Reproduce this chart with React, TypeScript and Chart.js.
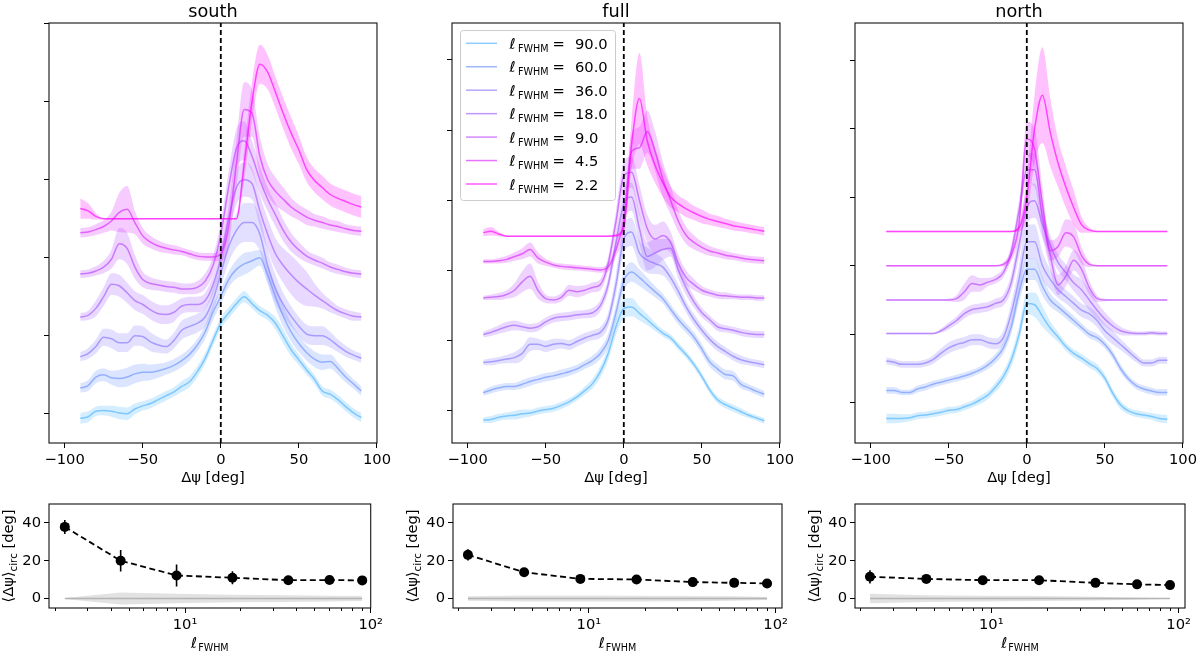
import React, { useEffect, useRef } from 'react';
import { Chart, registerables } from 'chart.js';

Chart.register(...registerables);

const FONT = 'DejaVu Sans';
Chart.defaults.font.family = FONT;
Chart.defaults.color = '#000';

// ---------------- data ----------------
const PSI = [-90, -85, -80, -75, -70, -65, -60, -55, -50, -45, -40, -35, -30, -25, -20, -15, -10, -5, 0, 5, 10, 15, 20, 25, 30, 35, 40, 45, 50, 55, 60, 65, 70, 75, 80, 85, 90];
const PSI_TICKS = [-100, -50, 0, 50, 100];
const RIDGE_TICKS = [0, 1, 2, 3, 4, 5];
const FWHM_LABELS = ['90.0', '60.0', '36.0', '18.0', '9.0', '4.5', '2.2'];

// south
const SOUTH_90 = [-0.06, -0.04, 0.03, 0.04, 0.03, 0.01, 0.0, 0.06, 0.1, 0.13, 0.18, 0.23, 0.28, 0.35, 0.41, 0.54, 0.71, 0.94, 1.16, 1.29, 1.41, 1.5, 1.41, 1.32, 1.26, 1.16, 0.99, 0.82, 0.69, 0.56, 0.44, 0.29, 0.25, 0.18, 0.09, 0.01, -0.05];
const SOUTH_90_SPREAD = [0.07, 0.07, 0.06, 0.06, 0.07, 0.08, 0.08, 0.07, 0.06, 0.06, 0.06, 0.06, 0.06, 0.07, 0.07, 0.07, 0.07, 0.07, 0.07, 0.07, 0.07, 0.07, 0.06, 0.06, 0.06, 0.08, 0.09, 0.08, 0.07, 0.06, 0.06, 0.06, 0.06, 0.06, 0.06, 0.06, 0.06];
const SOUTH_60 = [0.33, 0.36, 0.47, 0.5, 0.46, 0.45, 0.47, 0.51, 0.53, 0.53, 0.55, 0.58, 0.62, 0.68, 0.76, 0.88, 1.05, 1.3, 1.5, 1.72, 1.85, 1.92, 1.96, 2.0, 1.78, 1.5, 1.25, 1.05, 0.9, 0.78, 0.7, 0.66, 0.67, 0.58, 0.47, 0.38, 0.29];
const SOUTH_60_SPREAD = [0.06, 0.07, 0.08, 0.08, 0.09, 0.11, 0.12, 0.12, 0.11, 0.1, 0.09, 0.08, 0.08, 0.08, 0.08, 0.08, 0.09, 0.1, 0.1, 0.1, 0.12, 0.14, 0.12, 0.1, 0.12, 0.14, 0.14, 0.12, 0.11, 0.1, 0.1, 0.1, 0.09, 0.08, 0.07, 0.06, 0.06];
const SOUTH_36 = [0.73, 0.77, 0.86, 0.98, 0.96, 0.91, 0.91, 1.0, 0.99, 0.92, 0.88, 0.86, 0.94, 1.07, 1.12, 1.16, 1.24, 1.46, 1.8, 2.14, 2.35, 2.45, 2.45, 2.3, 1.9, 1.6, 1.4, 1.25, 1.12, 1.02, 1.0, 1.0, 0.95, 0.87, 0.8, 0.75, 0.71];
const SOUTH_36_SPREAD = [0.06, 0.07, 0.09, 0.11, 0.12, 0.12, 0.12, 0.13, 0.13, 0.12, 0.1, 0.09, 0.1, 0.12, 0.12, 0.12, 0.12, 0.14, 0.18, 0.2, 0.22, 0.25, 0.25, 0.22, 0.2, 0.18, 0.15, 0.13, 0.12, 0.12, 0.12, 0.12, 0.1, 0.08, 0.07, 0.06, 0.06];
const SOUTH_18 = [1.24, 1.26, 1.35, 1.5, 1.66, 1.64, 1.55, 1.45, 1.4, 1.33, 1.28, 1.27, 1.3, 1.38, 1.4, 1.4, 1.45, 1.65, 2.0, 2.5, 2.9, 3.0, 2.95, 2.6, 2.3, 2.05, 1.9, 1.78, 1.68, 1.6, 1.52, 1.45, 1.38, 1.32, 1.28, 1.25, 1.24];
const SOUTH_18_SPREAD = [0.05, 0.06, 0.1, 0.12, 0.14, 0.14, 0.13, 0.12, 0.12, 0.12, 0.12, 0.12, 0.12, 0.1, 0.1, 0.1, 0.1, 0.12, 0.15, 0.2, 0.22, 0.22, 0.2, 0.2, 0.2, 0.2, 0.22, 0.25, 0.25, 0.22, 0.15, 0.1, 0.08, 0.06, 0.06, 0.06, 0.05];
const SOUTH_9 = [1.79, 1.8, 1.83, 1.88, 1.98, 2.18, 2.12, 1.88, 1.72, 1.67, 1.65, 1.63, 1.62, 1.6, 1.6, 1.62, 1.7, 1.9, 2.3, 2.9, 3.4, 3.5, 3.3, 3.0, 2.75, 2.55, 2.35, 2.2, 2.1, 2.02, 1.97, 1.93, 1.88, 1.85, 1.82, 1.8, 1.79];
const SOUTH_9_SPREAD = [0.05, 0.05, 0.06, 0.08, 0.12, 0.2, 0.2, 0.15, 0.1, 0.08, 0.07, 0.07, 0.07, 0.07, 0.07, 0.08, 0.1, 0.12, 0.15, 0.2, 0.25, 0.25, 0.2, 0.18, 0.15, 0.15, 0.14, 0.12, 0.1, 0.08, 0.07, 0.07, 0.06, 0.06, 0.05, 0.05, 0.05];
const SOUTH_4_5 = [2.32, 2.33, 2.36, 2.4, 2.47, 2.58, 2.62, 2.45, 2.28, 2.2, 2.15, 2.12, 2.1, 2.08, 2.05, 2.02, 2.01, 2.01, 2.05, 2.4, 3.2, 3.9, 3.85, 3.3, 3.0, 2.85, 2.75, 2.65, 2.58, 2.52, 2.48, 2.45, 2.42, 2.4, 2.37, 2.35, 2.34];
const SOUTH_4_5_SPREAD = [0.06, 0.06, 0.07, 0.08, 0.12, 0.25, 0.3, 0.15, 0.1, 0.08, 0.07, 0.06, 0.06, 0.05, 0.05, 0.05, 0.05, 0.05, 0.1, 0.25, 0.3, 0.35, 0.3, 0.25, 0.2, 0.18, 0.15, 0.12, 0.1, 0.1, 0.08, 0.08, 0.07, 0.07, 0.06, 0.06, 0.06];
const SOUTH_2_2 = [2.63, 2.6, 2.53, 2.5, 2.5, 2.5, 2.5, 2.5, 2.5, 2.5, 2.5, 2.5, 2.5, 2.5, 2.5, 2.5, 2.5, 2.5, 2.5, 2.5, 2.5, 3.2, 4.0, 4.48, 4.38, 4.12, 3.85, 3.6, 3.38, 3.13, 2.99, 2.9, 2.81, 2.76, 2.72, 2.68, 2.65];
const SOUTH_2_2_SPREAD = [0.13, 0.1, 0.04, 0.01, 0.01, 0.01, 0.01, 0.01, 0.01, 0.01, 0.01, 0.01, 0.01, 0.01, 0.01, 0.01, 0.01, 0.01, 0.01, 0.01, 0.01, 0.2, 0.25, 0.25, 0.22, 0.2, 0.2, 0.2, 0.18, 0.16, 0.15, 0.15, 0.14, 0.14, 0.14, 0.14, 0.14];

// full
const FULL_90 = [-0.13, -0.12, -0.09, -0.07, -0.06, -0.04, -0.03, 0.0, 0.02, 0.04, 0.08, 0.13, 0.2, 0.29, 0.39, 0.56, 0.82, 1.2, 1.46, 1.48, 1.39, 1.3, 1.2, 1.11, 1.04, 0.92, 0.8, 0.66, 0.49, 0.3, 0.16, 0.09, 0.04, -0.01, -0.06, -0.1, -0.14];
const FULL_90_SPREAD = [0.04, 0.05, 0.05, 0.05, 0.06, 0.06, 0.05, 0.05, 0.05, 0.05, 0.05, 0.05, 0.05, 0.06, 0.07, 0.08, 0.1, 0.12, 0.14, 0.13, 0.1, 0.08, 0.06, 0.05, 0.05, 0.05, 0.05, 0.05, 0.05, 0.05, 0.05, 0.05, 0.05, 0.05, 0.04, 0.04, 0.04];
const FULL_60 = [0.26, 0.3, 0.33, 0.35, 0.35, 0.38, 0.42, 0.45, 0.48, 0.5, 0.53, 0.56, 0.6, 0.66, 0.72, 0.82, 1.0, 1.4, 1.85, 1.98, 1.9, 1.8, 1.7, 1.6, 1.45, 1.3, 1.18, 1.05, 0.88, 0.7, 0.6, 0.52, 0.5, 0.38, 0.33, 0.28, 0.24];
const FULL_60_SPREAD = [0.04, 0.05, 0.05, 0.05, 0.05, 0.06, 0.06, 0.06, 0.06, 0.06, 0.06, 0.06, 0.06, 0.06, 0.07, 0.08, 0.1, 0.12, 0.14, 0.14, 0.12, 0.1, 0.08, 0.07, 0.07, 0.07, 0.07, 0.07, 0.07, 0.07, 0.07, 0.07, 0.07, 0.06, 0.05, 0.05, 0.05];
const FULL_36 = [0.69, 0.7, 0.72, 0.74, 0.76, 0.82, 0.95, 0.95, 0.92, 0.95, 0.96, 0.94, 0.99, 1.04, 1.08, 1.12, 1.3, 1.8, 2.45, 2.55, 2.25, 2.15, 2.1, 2.05, 1.9, 1.7, 1.48, 1.3, 1.15, 1.02, 0.92, 0.85, 0.78, 0.73, 0.7, 0.68, 0.66];
const FULL_36_SPREAD = [0.04, 0.05, 0.05, 0.06, 0.08, 0.1, 0.1, 0.08, 0.08, 0.08, 0.07, 0.07, 0.07, 0.07, 0.07, 0.08, 0.1, 0.15, 0.2, 0.2, 0.18, 0.18, 0.15, 0.12, 0.1, 0.1, 0.08, 0.08, 0.07, 0.07, 0.07, 0.06, 0.06, 0.06, 0.05, 0.05, 0.05];
const FULL_18 = [1.09, 1.12, 1.16, 1.2, 1.22, 1.2, 1.18, 1.2, 1.27, 1.32, 1.34, 1.35, 1.37, 1.38, 1.4, 1.5, 1.8, 2.4, 2.95, 3.05, 2.6, 2.2, 2.25, 2.3, 2.32, 2.0, 1.75, 1.55, 1.4, 1.3, 1.2, 1.17, 1.15, 1.12, 1.1, 1.09, 1.09];
const FULL_18_SPREAD = [0.04, 0.05, 0.06, 0.07, 0.07, 0.06, 0.06, 0.06, 0.06, 0.06, 0.06, 0.06, 0.06, 0.06, 0.07, 0.08, 0.1, 0.15, 0.2, 0.2, 0.22, 0.2, 0.2, 0.15, 0.12, 0.12, 0.1, 0.08, 0.07, 0.06, 0.06, 0.05, 0.05, 0.05, 0.05, 0.05, 0.05];
const FULL_9 = [1.61, 1.62, 1.63, 1.66, 1.72, 1.84, 1.92, 1.72, 1.6, 1.58, 1.62, 1.72, 1.7, 1.72, 1.76, 1.8, 2.1, 2.7, 3.35, 3.4, 3.0, 2.6, 2.45, 2.5, 2.4, 2.1, 1.9, 1.8, 1.72, 1.68, 1.65, 1.64, 1.63, 1.62, 1.62, 1.61, 1.61];
const FULL_9_SPREAD = [0.03, 0.04, 0.05, 0.06, 0.1, 0.15, 0.18, 0.12, 0.06, 0.05, 0.06, 0.08, 0.08, 0.07, 0.07, 0.08, 0.1, 0.15, 0.2, 0.22, 0.22, 0.2, 0.2, 0.2, 0.15, 0.12, 0.1, 0.08, 0.06, 0.05, 0.05, 0.05, 0.04, 0.04, 0.04, 0.04, 0.04];
const FULL_4_5 = [2.13, 2.13, 2.14, 2.16, 2.2, 2.24, 2.3, 2.18, 2.12, 2.08, 2.06, 2.05, 2.04, 2.03, 2.02, 2.01, 2.05, 2.3, 2.72, 3.7, 3.75, 3.98, 3.7, 3.3, 3.0, 2.7, 2.5, 2.4, 2.33, 2.28, 2.25, 2.22, 2.2, 2.18, 2.16, 2.15, 2.14];
const FULL_4_5_SPREAD = [0.03, 0.03, 0.04, 0.05, 0.06, 0.08, 0.1, 0.08, 0.05, 0.04, 0.04, 0.04, 0.04, 0.04, 0.04, 0.04, 0.06, 0.1, 0.2, 0.25, 0.3, 0.3, 0.28, 0.25, 0.2, 0.15, 0.12, 0.1, 0.08, 0.07, 0.06, 0.06, 0.05, 0.05, 0.05, 0.05, 0.05];
const FULL_2_2 = [2.54, 2.56, 2.52, 2.49, 2.49, 2.49, 2.49, 2.49, 2.49, 2.49, 2.49, 2.49, 2.49, 2.49, 2.49, 2.49, 2.49, 2.5, 2.62, 3.8, 4.45, 3.85, 3.5, 3.25, 3.05, 2.95, 2.88, 2.82, 2.77, 2.73, 2.7, 2.67, 2.64, 2.62, 2.6, 2.58, 2.56];
const FULL_2_2_SPREAD = [0.05, 0.06, 0.03, 0.01, 0.01, 0.01, 0.01, 0.01, 0.01, 0.01, 0.01, 0.01, 0.01, 0.01, 0.01, 0.01, 0.01, 0.02, 0.1, 0.35, 0.65, 0.35, 0.25, 0.2, 0.15, 0.12, 0.12, 0.1, 0.1, 0.08, 0.08, 0.07, 0.07, 0.06, 0.06, 0.06, 0.06];

// north
const NORTH_90 = [-0.23, -0.23, -0.23, -0.22, -0.19, -0.18, -0.16, -0.14, -0.11, -0.1, -0.06, -0.02, 0.04, 0.11, 0.23, 0.38, 0.62, 0.99, 1.45, 1.43, 1.26, 1.09, 0.96, 0.82, 0.72, 0.65, 0.57, 0.5, 0.36, 0.14, -0.03, -0.12, -0.16, -0.18, -0.2, -0.23, -0.24];
const NORTH_90_SPREAD = [0.07, 0.07, 0.06, 0.05, 0.05, 0.05, 0.05, 0.05, 0.05, 0.05, 0.05, 0.05, 0.06, 0.06, 0.07, 0.08, 0.1, 0.12, 0.15, 0.18, 0.15, 0.1, 0.07, 0.06, 0.06, 0.06, 0.06, 0.06, 0.06, 0.06, 0.06, 0.05, 0.05, 0.05, 0.05, 0.06, 0.06];
const NORTH_60 = [0.18, 0.18, 0.15, 0.15, 0.2, 0.23, 0.27, 0.3, 0.33, 0.36, 0.39, 0.43, 0.48, 0.55, 0.65, 0.8, 1.1, 1.6, 1.95, 1.95, 1.7, 1.5, 1.4, 1.3, 1.2, 1.1, 1.0, 0.95, 0.85, 0.7, 0.5, 0.35, 0.25, 0.2, 0.17, 0.15, 0.15];
const NORTH_60_SPREAD = [0.05, 0.05, 0.04, 0.04, 0.05, 0.05, 0.05, 0.05, 0.05, 0.05, 0.05, 0.05, 0.05, 0.06, 0.07, 0.08, 0.1, 0.14, 0.16, 0.16, 0.14, 0.1, 0.08, 0.07, 0.07, 0.06, 0.06, 0.06, 0.06, 0.06, 0.06, 0.05, 0.05, 0.05, 0.05, 0.05, 0.05];
const NORTH_36 = [0.61, 0.59, 0.56, 0.56, 0.56, 0.58, 0.63, 0.72, 0.8, 0.85, 0.88, 0.92, 0.92, 0.88, 0.86, 0.95, 1.3, 1.8, 2.35, 2.35, 2.0, 1.8, 1.65, 1.55, 1.45, 1.35, 1.3, 1.2, 1.05, 0.95, 0.85, 0.75, 0.65, 0.58, 0.58, 0.62, 0.62];
const NORTH_36_SPREAD = [0.05, 0.05, 0.05, 0.05, 0.05, 0.05, 0.06, 0.07, 0.08, 0.08, 0.08, 0.08, 0.08, 0.08, 0.08, 0.1, 0.15, 0.2, 0.25, 0.25, 0.2, 0.15, 0.12, 0.1, 0.1, 0.1, 0.1, 0.1, 0.1, 0.1, 0.08, 0.07, 0.06, 0.05, 0.05, 0.05, 0.05];
const NORTH_18 = [1.01, 1.01, 1.01, 1.01, 1.01, 1.01, 1.01, 1.05, 1.12, 1.2, 1.3, 1.36, 1.38, 1.4, 1.45, 1.5, 1.75, 2.3, 2.85, 2.95, 2.6, 2.3, 2.05, 1.9, 1.75, 1.65, 1.5, 1.35, 1.22, 1.12, 1.05, 1.02, 1.01, 1.01, 1.02, 1.01, 1.01];
const NORTH_18_SPREAD = [0.01, 0.01, 0.01, 0.01, 0.01, 0.01, 0.01, 0.03, 0.05, 0.06, 0.07, 0.07, 0.07, 0.07, 0.07, 0.08, 0.12, 0.18, 0.25, 0.25, 0.2, 0.15, 0.12, 0.12, 0.12, 0.15, 0.15, 0.12, 0.1, 0.08, 0.06, 0.04, 0.03, 0.03, 0.03, 0.03, 0.03];
const NORTH_9 = [1.5, 1.5, 1.5, 1.5, 1.5, 1.5, 1.5, 1.5, 1.5, 1.52, 1.62, 1.74, 1.72, 1.76, 1.8, 1.9, 2.2, 2.8, 3.4, 3.4, 2.7, 2.15, 1.72, 1.85, 2.08, 1.95, 1.68, 1.52, 1.5, 1.5, 1.5, 1.5, 1.5, 1.5, 1.5, 1.5, 1.5];
const NORTH_9_SPREAD = [0.01, 0.01, 0.01, 0.01, 0.01, 0.01, 0.01, 0.01, 0.02, 0.05, 0.12, 0.12, 0.1, 0.06, 0.06, 0.07, 0.1, 0.15, 0.2, 0.25, 0.25, 0.2, 0.15, 0.15, 0.15, 0.15, 0.1, 0.05, 0.02, 0.01, 0.01, 0.01, 0.01, 0.01, 0.01, 0.01, 0.01];
const NORTH_4_5 = [2.0, 2.0, 2.0, 2.0, 2.0, 2.0, 2.0, 2.0, 2.0, 2.0, 2.0, 2.0, 2.0, 2.0, 2.0, 2.02, 2.15, 2.6, 3.85, 3.7, 2.9, 2.22, 2.28, 2.48, 2.42, 2.15, 2.02, 2.0, 2.0, 2.0, 2.0, 2.0, 2.0, 2.0, 2.0, 2.0, 2.0];
const NORTH_4_5_SPREAD = [0.01, 0.01, 0.01, 0.01, 0.01, 0.01, 0.01, 0.01, 0.01, 0.01, 0.01, 0.01, 0.01, 0.01, 0.01, 0.03, 0.08, 0.15, 0.25, 0.3, 0.25, 0.15, 0.15, 0.2, 0.2, 0.12, 0.04, 0.01, 0.01, 0.01, 0.01, 0.01, 0.01, 0.01, 0.01, 0.01, 0.01];
const NORTH_2_2 = [2.5, 2.5, 2.5, 2.5, 2.5, 2.5, 2.5, 2.5, 2.5, 2.5, 2.5, 2.5, 2.5, 2.5, 2.5, 2.5, 2.5, 2.55, 3.0, 4.0, 4.49, 3.95, 3.5, 3.15, 2.85, 2.6, 2.52, 2.5, 2.5, 2.5, 2.5, 2.5, 2.5, 2.5, 2.5, 2.5, 2.5];
const NORTH_2_2_SPREAD = [0.01, 0.01, 0.01, 0.01, 0.01, 0.01, 0.01, 0.01, 0.01, 0.01, 0.01, 0.01, 0.01, 0.01, 0.01, 0.01, 0.01, 0.05, 0.3, 0.5, 0.7, 0.5, 0.35, 0.3, 0.25, 0.12, 0.04, 0.01, 0.01, 0.01, 0.01, 0.01, 0.01, 0.01, 0.01, 0.01, 0.01];

// summary panels
const L_FWHM = [2.25, 4.5, 9, 18, 36, 60, 90];
const LOG_MAJOR = [10, 100];
const LOG_MAJOR_LABELS = ['10¹', '10²'];
const LOG_MINOR = [2, 3, 4, 5, 6, 7, 8, 9, 20, 30, 40, 50, 60, 70, 80, 90];
const SUMMARY_TICKS = [0, 20, 40];

const SOUTH_MEAN = [37.9, 20.0, 12.2, 11.0, 9.7, 9.8, 9.6];
const SOUTH_ERR = [3.7, 5.7, 5.8, 3.5, 1.5, 1.5, 1.3];
const SOUTH_NULL = [0.3, 3.2, 2.5, 2.0, 1.8, 1.5, 1.3];
const FULL_MEAN = [23.1, 13.9, 10.4, 10.1, 8.7, 8.3, 8.0];
const FULL_ERR = [3.0, 1.2, 1.0, 1.0, 0.8, 0.8, 0.8];
const FULL_NULL = [1.2, 1.6, 1.6, 1.5, 1.4, 1.2, 0.8];
const NORTH_MEAN = [11.5, 10.4, 9.7, 9.7, 8.3, 7.5, 7.1];
const NORTH_ERR = [3.5, 1.5, 1.0, 1.0, 1.0, 1.0, 1.0];
const NORTH_NULL = [2.5, 1.8, 1.5, 1.3, 1.0, 0.6, 0.3];

// ---------------- style ----------------
const CURVE_COLORS = [
  [77, 179, 255],
  [107, 148, 255],
  [135, 120, 255],
  [161, 94, 255],
  [186, 69, 255],
  [217, 38, 255],
  [255, 0, 255],
];
const TICK_FONT = { family: FONT, size: 14.7 };

function rgba(c: number[], a: number) {
  return `rgba(${c[0]},${c[1]},${c[2]},${a})`;
}

const framePlugin = {
  id: 'frame',
  afterDatasetsDraw(chart: any) {
    const { ctx, chartArea: a } = chart;
    ctx.save();
    ctx.strokeStyle = '#111';
    ctx.lineWidth = 1.1;
    ctx.strokeRect(a.left, a.top, a.right - a.left, a.bottom - a.top);
    ctx.restore();
  },
};

const legendPlugin = {
  id: 'ridgeLegend',
  afterDatasetsDraw(chart: any) {
    const { ctx, chartArea: a } = chart;
    const x0 = a.left + 8;
    const y0 = a.top + 7;
    ctx.save();
    ctx.beginPath();
    if (ctx.roundRect) ctx.roundRect(x0 + 0.5, y0 + 0.5, 155, 170, 3);
    else ctx.rect(x0 + 0.5, y0 + 0.5, 155, 170);
    ctx.fillStyle = 'rgba(255,255,255,0.8)';
    ctx.fill();
    ctx.strokeStyle = '#cccccc';
    ctx.lineWidth = 1;
    ctx.stroke();
    ctx.textAlign = 'left';
    ctx.textBaseline = 'alphabetic';
    FWHM_LABELS.forEach((lab, i) => {
      const y = a.top + 20.3 + i * 23.45;
      ctx.strokeStyle = rgba(CURVE_COLORS[i], 0.65);
      ctx.lineWidth = 1.5;
      ctx.beginPath();
      ctx.moveTo(a.left + 14, y);
      ctx.lineTo(a.left + 45, y);
      ctx.stroke();
      ctx.fillStyle = '#000';
      ctx.font = `italic 14.7px ${FONT}`;
      ctx.fillText('ℓ', a.left + 57.5, y + 5.5);
      ctx.font = `9.6px ${FONT}`;
      ctx.fillText('FWHM', a.left + 66, y + 8.5);
      ctx.font = `14.7px ${FONT}`;
      ctx.fillText('=', a.left + 100.5, y + 5.5);
      ctx.fillText(lab, a.left + 123, y + 5.5);
    });
    ctx.restore();
  },
};

const summaryLabelPlugin = {
  id: 'summaryLabels',
  afterDraw(chart: any) {
    const { ctx, chartArea: a } = chart;
    ctx.save();
    ctx.fillStyle = '#000';
    ctx.textAlign = 'left';
    ctx.textBaseline = 'alphabetic';
    // x label: l_FWHM
    ctx.font = `italic 14.7px ${FONT}`;
    const w1 = ctx.measureText('ℓ').width;
    ctx.font = `9.6px ${FONT}`;
    const w2 = ctx.measureText('FWHM').width;
    const cx = (a.left + a.right) / 2;
    const sx = cx - (w1 + 1 + w2) / 2;
    const by = a.bottom + 40;
    ctx.font = `italic 14.7px ${FONT}`;
    ctx.fillText('ℓ', sx, by);
    ctx.font = `9.6px ${FONT}`;
    ctx.fillText('FWHM', sx + w1 + 1, by + 3);
    // y label
    const parts: any[] = [
      { t: '⟨Δψ⟩', s: 14.7, dy: 0 },
      { t: 'circ', s: 10.3, dy: 3.5 },
      { t: ' [deg]', s: 14.7, dy: 0 },
    ];
    let total = 0;
    parts.forEach((p) => {
      ctx.font = `${p.s}px ${FONT}`;
      p.w = ctx.measureText(p.t).width;
      total += p.w;
    });
    ctx.translate(a.left - 41, (a.top + a.bottom) / 2);
    ctx.rotate(-Math.PI / 2);
    let x = -total / 2;
    parts.forEach((p) => {
      ctx.font = `${p.s}px ${FONT}`;
      ctx.fillText(p.t, x, 5 + p.dy);
      x += p.w;
    });
    ctx.restore();
  },
};

function makeRidgeConfig(p: any) {
  const datasets: any[] = [
    {
      data: [{ x: 0, y: p.yMin }, { x: 0, y: p.yMax }],
      borderColor: '#000',
      borderWidth: 1.8,
      borderDash: [5, 3],
      pointRadius: 0,
      fill: false,
      order: 0,
    },
  ];
  p.series.forEach((vals: number[], i: number) => {
    const spread = p.spread[i];
    const col = CURVE_COLORS[i];
    const ord = 10 - i;
    const base = datasets.length;
    datasets.push({
      data: PSI.map((x, k) => ({ x, y: vals[k] })),
      borderColor: rgba(col, 0.65),
      borderWidth: 1.5,
      pointRadius: 0,
      fill: false,
      cubicInterpolationMode: 'monotone',
      order: ord,
    });
    datasets.push({
      data: PSI.map((x, k) => ({ x, y: vals[k] - spread[k] })),
      borderColor: 'rgba(0,0,0,0)',
      borderWidth: 0,
      pointRadius: 0,
      fill: false,
      cubicInterpolationMode: 'monotone',
      order: ord,
    });
    datasets.push({
      data: PSI.map((x, k) => ({ x, y: vals[k] + spread[k] })),
      borderColor: 'rgba(0,0,0,0)',
      borderWidth: 0,
      pointRadius: 0,
      fill: base + 1,
      backgroundColor: rgba(col, 0.24),
      cubicInterpolationMode: 'monotone',
      order: ord,
    });
  });
  return {
    type: 'line',
    data: { datasets },
    options: {
      responsive: false,
      animation: false,
      devicePixelRatio: 1,
      events: [],
      layout: { padding: { left: 0, top: 0, right: 15, bottom: 0 } },
      plugins: {
        legend: { display: false },
        tooltip: { enabled: false },
        title: {
          display: true,
          fullSize: false,
          text: p.title,
          color: '#000',
          font: { family: FONT, size: 17.7, weight: 'normal' },
          padding: { top: 1.5, bottom: 0.26 },
        },
      },
      scales: {
        x: {
          type: 'linear',
          min: -110,
          max: 100,
          afterBuildTicks: (s: any) => {
            s.ticks = PSI_TICKS.map((v) => ({ value: v }));
          },
          ticks: {
            color: '#000',
            font: TICK_FONT,
            padding: 3,
            maxRotation: 0,
            autoSkip: false,
            callback: (v: any) => String(v).replace('-', '\u2212'),
          },
          grid: { drawOnChartArea: false, tickLength: 5, color: '#000' },
          border: { display: false },
          title: { display: true, text: 'Δψ [deg]', color: '#000', font: TICK_FONT, padding: 0 },
          afterFit: (s: any) => {
            s.height = 44;
          },
        },
        y: {
          type: 'linear',
          min: p.yMin,
          max: p.yMax,
          afterBuildTicks: (s: any) => {
            s.ticks = RIDGE_TICKS.map((v) => ({ value: v }));
          },
          ticks: { display: false },
          grid: { drawOnChartArea: false, tickLength: 5, color: '#000' },
          border: { display: false },
          afterFit: (s: any) => {
            s.width = 40;
          },
        },
      },
    },
    plugins: p.legend ? [framePlugin, legendPlugin] : [framePlugin],
  };
}

function makeSummaryConfig(p: any) {
  const errData: any[] = [];
  L_FWHM.forEach((x, k) => {
    errData.push({ x, y: p.mean[k] - p.err[k] }, { x, y: p.mean[k] + p.err[k] }, { x, y: null });
  });
  const datasets: any[] = [
    {
      data: L_FWHM.map((x, k) => ({ x, y: p.mean[k] })),
      borderColor: '#000',
      borderWidth: 1.8,
      borderDash: [6, 3.5],
      pointRadius: 5,
      pointBackgroundColor: '#000',
      pointBorderColor: '#000',
      pointBorderWidth: 0,
      fill: false,
      order: 1,
    },
    { data: errData, borderColor: '#000', borderWidth: 1.6, pointRadius: 0, spanGaps: false, fill: false, order: 2 },
    {
      data: L_FWHM.map((x) => ({ x, y: 0 })),
      borderColor: 'rgba(150,150,150,0.6)',
      borderWidth: 1.5,
      pointRadius: 0,
      fill: false,
      order: 3,
    },
    {
      data: L_FWHM.map((x, k) => ({ x, y: -p.nullSpread[k] })),
      borderColor: 'rgba(0,0,0,0)',
      borderWidth: 0,
      pointRadius: 0,
      fill: false,
      order: 4,
    },
    {
      data: L_FWHM.map((x, k) => ({ x, y: p.nullSpread[k] })),
      borderColor: 'rgba(0,0,0,0)',
      borderWidth: 0,
      pointRadius: 0,
      fill: 3,
      backgroundColor: 'rgba(150,150,150,0.28)',
      order: 4,
    },
  ];
  return {
    type: 'line',
    data: { datasets },
    options: {
      responsive: false,
      animation: false,
      devicePixelRatio: 1,
      events: [],
      layout: { padding: { left: 0, top: 14, right: 15, bottom: 0 } },
      plugins: { legend: { display: false }, tooltip: { enabled: false }, title: { display: false } },
      scales: {
        x: {
          type: 'logarithmic',
          min: p.xMin,
          max: p.xMax,
          afterBuildTicks: (s: any) => {
            s.ticks = LOG_MAJOR.map((v) => ({ value: v }));
          },
          ticks: {
            color: '#000',
            font: TICK_FONT,
            padding: 3,
            maxRotation: 0,
            autoSkip: false,
            callback: (v: any) => LOG_MAJOR_LABELS[LOG_MAJOR.indexOf(Number(v))] ?? '',
          },
          grid: { drawOnChartArea: false, tickLength: 5, color: '#000' },
          border: { display: false },
          afterFit: (s: any) => {
            s.height = 45;
          },
        },
        xm: {
          type: 'logarithmic',
          axis: 'x',
          position: { y: -5 },
          min: p.xMin,
          max: p.xMax,
          afterBuildTicks: (s: any) => {
            s.ticks = LOG_MINOR.filter((v) => v > p.xMin && v < p.xMax).map((v) => ({ value: v }));
          },
          ticks: { display: false },
          grid: { drawOnChartArea: false, tickLength: 3, color: '#000' },
          border: { display: false },
        },
        y: {
          type: 'linear',
          min: -5,
          max: 50,
          afterBuildTicks: (s: any) => {
            s.ticks = SUMMARY_TICKS.map((v) => ({ value: v }));
          },
          ticks: { color: '#000', font: TICK_FONT, padding: 3 },
          grid: { drawOnChartArea: false, tickLength: 5, color: '#000' },
          border: { display: false },
          afterFit: (s: any) => {
            s.width = 49;
          },
        },
      },
    },
    plugins: [framePlugin, summaryLabelPlugin],
  };
}

const RIDGE_PANELS = [
  {
    key: 'south',
    title: 'south',
    left: 9,
    yMin: -0.376,
    yMax: 5.009,
    legend: false,
    series: [SOUTH_90, SOUTH_60, SOUTH_36, SOUTH_18, SOUTH_9, SOUTH_4_5, SOUTH_2_2],
    spread: [SOUTH_90_SPREAD, SOUTH_60_SPREAD, SOUTH_36_SPREAD, SOUTH_18_SPREAD, SOUTH_9_SPREAD, SOUTH_4_5_SPREAD, SOUTH_2_2_SPREAD],
  },
  {
    key: 'full',
    title: 'full',
    left: 412,
    yMin: -0.456,
    yMax: 5.527,
    legend: true,
    series: [FULL_90, FULL_60, FULL_36, FULL_18, FULL_9, FULL_4_5, FULL_2_2],
    spread: [FULL_90_SPREAD, FULL_60_SPREAD, FULL_36_SPREAD, FULL_18_SPREAD, FULL_9_SPREAD, FULL_4_5_SPREAD, FULL_2_2_SPREAD],
  },
  {
    key: 'north',
    title: 'north',
    left: 815,
    yMin: -0.588,
    yMax: 5.543,
    legend: false,
    series: [NORTH_90, NORTH_60, NORTH_36, NORTH_18, NORTH_9, NORTH_4_5, NORTH_2_2],
    spread: [NORTH_90_SPREAD, NORTH_60_SPREAD, NORTH_36_SPREAD, NORTH_18_SPREAD, NORTH_9_SPREAD, NORTH_4_5_SPREAD, NORTH_2_2_SPREAD],
  },
];

const SUMMARY_PANELS = [
  { key: 's-south', left: 0, width: 386, xMin: 1.85, xMax: 100, mean: SOUTH_MEAN, err: SOUTH_ERR, nullSpread: SOUTH_NULL },
  { key: 's-full', left: 404, width: 393, xMin: 1.872, xMax: 108.2, mean: FULL_MEAN, err: FULL_ERR, nullSpread: FULL_NULL },
  { key: 's-north', left: 806, width: 394, xMin: 1.872, xMax: 108.2, mean: NORTH_MEAN, err: NORTH_ERR, nullSpread: NORTH_NULL },
];

function ChartBox({ left, top, width, height, make }: any) {
  const ref = useRef<HTMLCanvasElement | null>(null);
  useEffect(() => {
    if (!ref.current) return;
    const chart = new Chart(ref.current, make());
    return () => chart.destroy();
  }, []);
  return (
    <div style={{ position: 'absolute', left, top, width, height }}>
      <canvas ref={ref} width={width} height={height} style={{ display: 'block', width, height }} />
    </div>
  );
}

export default function App() {
  return (
    <div
      style={{
        position: 'fixed',
        left: 0,
        top: 0,
        width: 1200,
        height: 653,
        background: '#fff',
        overflow: 'hidden',
      }}
    >
      {RIDGE_PANELS.map((p) => (
        <ChartBox key={p.key} left={p.left} top={0} width={385} height={487} make={() => makeRidgeConfig(p)} />
      ))}
      {SUMMARY_PANELS.map((p) => (
        <ChartBox key={p.key} left={p.left} top={490} width={p.width} height={163} make={() => makeSummaryConfig(p)} />
      ))}
    </div>
  );
}
